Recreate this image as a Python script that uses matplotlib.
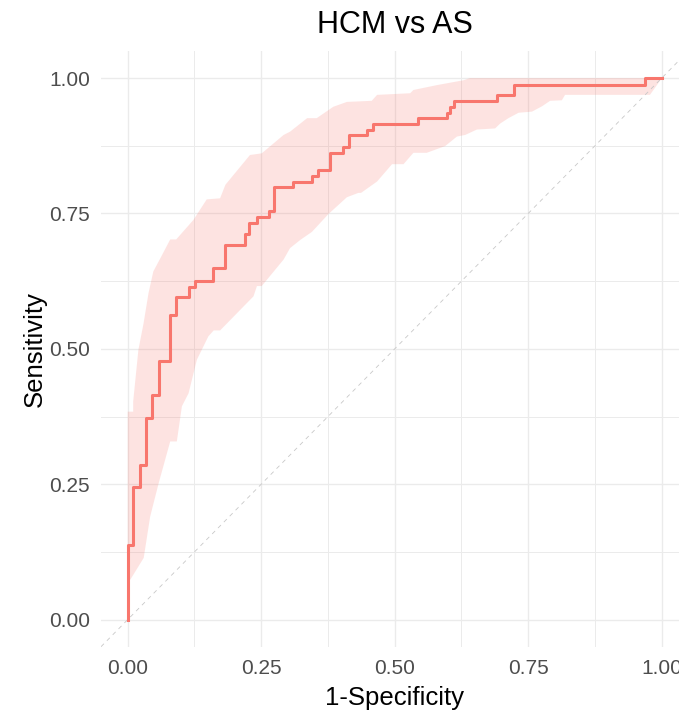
import matplotlib.pyplot as plt
from matplotlib.ticker import MultipleLocator

plt.rcParams['font.family'] = ['Liberation Sans', 'DejaVu Sans']

# ROC step corners (1-specificity, sensitivity)
fpr = [0.0, 0.0, 0.0103, 0.0234, 0.0334, 0.0446, 0.0578, 0.0796, 0.0908, 0.114,
       0.126, 0.1595, 0.183, 0.219, 0.228, 0.242, 0.264, 0.274, 0.310, 0.345,
       0.357, 0.379, 0.403, 0.4135, 0.449, 0.459, 0.543, 0.598, 0.604, 0.611,
       0.691, 0.7225, 0.968, 1.0]
tpr = [0.0, 0.137, 0.245, 0.286, 0.372, 0.414, 0.477, 0.563, 0.595, 0.615,
       0.626, 0.649, 0.692, 0.713, 0.733, 0.744, 0.754, 0.798, 0.809, 0.819,
       0.830, 0.861, 0.872, 0.894, 0.904, 0.915, 0.926, 0.936, 0.947, 0.957,
       0.968, 0.988, 1.0, 1.0]

# confidence band edges
upper_x = [0.0, 0.0103, 0.0103, 0.020, 0.0297, 0.039, 0.048, 0.061, 0.0796, 0.0908,
           0.123, 0.148, 0.173, 0.183, 0.229, 0.251, 0.292, 0.304, 0.336, 0.354,
           0.385, 0.4105, 0.457, 0.467, 0.529, 0.535, 0.579, 0.629, 0.641, 1.0]
upper_y = [0.384, 0.384, 0.403, 0.498, 0.547, 0.603, 0.643, 0.667, 0.702, 0.702,
           0.738, 0.776, 0.778, 0.803, 0.858, 0.861, 0.895, 0.901, 0.926, 0.926,
           0.947, 0.956, 0.958, 0.969, 0.972, 0.978, 0.987, 0.996, 1.0, 1.0]
lower_x = [0.0, 0.005, 0.030, 0.042, 0.058, 0.0796, 0.092, 0.1015, 0.114, 0.1296,
           0.151, 0.161, 0.173, 0.2356, 0.242, 0.251, 0.292, 0.304, 0.323, 0.345,
           0.376, 0.4105, 0.432, 0.437, 0.467, 0.495, 0.5165, 0.535, 0.560, 0.5946,
           0.6165, 0.632, 0.654, 0.688, 0.6975, 0.713, 0.732, 0.757, 0.776, 0.791,
           0.813, 0.819, 0.978, 0.999, 1.0]
lower_y = [0.074, 0.074, 0.114, 0.19, 0.252, 0.329, 0.329, 0.394, 0.418, 0.48,
           0.523, 0.534, 0.534, 0.597, 0.616, 0.616, 0.665, 0.686, 0.701, 0.716,
           0.749, 0.780, 0.788, 0.788, 0.809, 0.841, 0.841, 0.862, 0.862, 0.8745,
           0.892, 0.895, 0.905, 0.907, 0.916, 0.926, 0.936, 0.938, 0.948, 0.958,
           0.959, 0.969, 0.969, 0.998, 1.0]

ticks = [0.0, 0.25, 0.5, 0.75, 1.0]
tick_labels = ['0.00', '0.25', '0.50', '0.75', '1.00']

red = '#F8766D'

fig = plt.figure(figsize=(6.79, 7.12), dpi=100)
ax = fig.add_axes([101 / 679, 1 - 646.7 / 712, 587.4 / 679, 595.7 / 712])

# band polygon: upper edge then lower edge reversed
ax.fill(upper_x + lower_x[::-1], upper_y + lower_y[::-1],
        color=red, alpha=0.2, linewidth=0, zorder=1)
ax.plot([-0.05, 1.05], [-0.05, 1.05], color='#C8C8C8', linewidth=0.6,
        dashes=(5, 5), zorder=2)
ax.plot(fpr, tpr, drawstyle='steps-post', color=red, linewidth=2.2, zorder=3)

ax.set_xlim(-0.05, 1.05)
ax.set_ylim(-0.05, 1.05)
ax.set_xticks(ticks)
ax.set_xticklabels(tick_labels)
ax.set_yticks(ticks)
ax.set_yticklabels(tick_labels)
ax.xaxis.set_minor_locator(MultipleLocator(0.125))
ax.yaxis.set_minor_locator(MultipleLocator(0.125))
ax.grid(True, which='major', color='#EBEBEB', linewidth=1.0)
ax.grid(True, which='minor', color='#EBEBEB', linewidth=0.7)
ax.set_axisbelow(True)
for s in ax.spines.values():
    s.set_visible(False)
ax.tick_params(which='both', length=0, labelsize=15, labelcolor='#4D4D4D')
ax.tick_params(axis='x', pad=9)
ax.tick_params(axis='y', pad=8)

ax.set_title('HCM vs AS', fontsize=22, pad=12.7)
ax.set_xlabel('1-Specificity', fontsize=18.5, va='baseline')
ax.xaxis.set_label_coords(0.5, -0.0979)
ax.set_ylabel('Sensitivity', fontsize=18.5, va='baseline')
ax.yaxis.set_label_coords(-0.101, 0.5)

fig.savefig('out.png', dpi=100)
